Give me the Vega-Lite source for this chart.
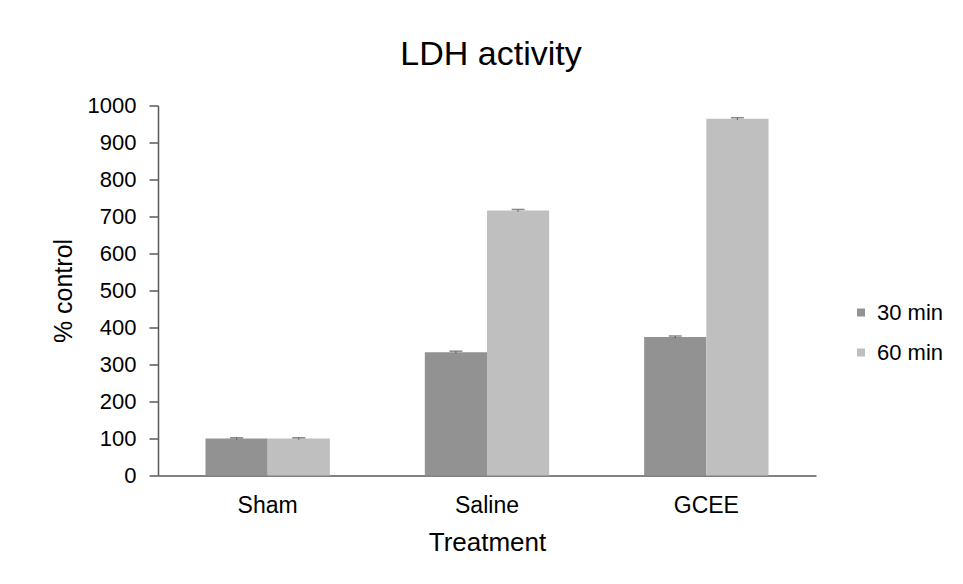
{
  "$schema": "https://vega.github.io/schema/vega-lite/v6.json",
  "width": 658,
  "height": 370,
  "autosize": {"type": "none"},
  "padding": {"left": 158, "top": 105.5, "right": 147, "bottom": 108.5},
  "background": "white",
  "config": {
    "font": "Liberation Sans",
    "view": {"stroke": null},
    "axisY": {
      "grid": false,
      "tickSize": 9,
      "tickColor": "#595959",
      "tickWidth": 1.5,
      "domainColor": "#595959",
      "domainWidth": 1.5,
      "labelFontSize": 22,
      "labelColor": "#000000",
      "labelPadding": 13,
      "titleFontSize": 25,
      "titleFontWeight": "normal",
      "titleColor": "#000000",
      "titleX": -95,
      "titleY": 185,
      "titleAngle": -90,
      "titleBaseline": "middle",
      "titleAlign": "center"
    }
  },
  "title": {
    "text": "LDH activity",
    "fontSize": 34,
    "fontWeight": "normal",
    "color": "#000000",
    "anchor": "middle",
    "baseline": "alphabetic",
    "offset": -4,
    "dx": 4
  },
  "data": {
    "values": [
      {"Treatment": "Sham", "Time": "30 min", "value": 100, "lo": 97, "hi": 102},
      {"Treatment": "Sham", "Time": "60 min", "value": 100, "lo": 97, "hi": 102},
      {"Treatment": "Saline", "Time": "30 min", "value": 333, "lo": 330, "hi": 336},
      {"Treatment": "Saline", "Time": "60 min", "value": 716, "lo": 713, "hi": 719},
      {"Treatment": "GCEE", "Time": "30 min", "value": 374, "lo": 371, "hi": 377},
      {"Treatment": "GCEE", "Time": "60 min", "value": 964, "lo": 961, "hi": 967}
    ]
  },
  "encoding": {
    "x": {
      "field": "Treatment",
      "type": "nominal",
      "sort": ["Sham", "Saline", "GCEE"],
      "scale": {"paddingInner": 0.433, "paddingOuter": 0.2165},
      "axis": {
        "labelAngle": 0,
        "ticks": false,
        "labelPadding": 19,
        "labelFontSize": 23,
        "labelColor": "#000000",
        "domainColor": "#595959",
        "domainWidth": 1.5,
        "title": "Treatment",
        "titleFontSize": 26,
        "titleFontWeight": "normal",
        "titleColor": "#000000",
        "titleY": 54,
        "titleBaseline": "top"
      }
    },
    "xOffset": {"field": "Time", "type": "nominal", "sort": ["30 min", "60 min"]}
  },
  "layer": [
    {
      "mark": {"type": "bar"},
      "encoding": {
        "y": {
          "field": "value",
          "type": "quantitative",
          "scale": {"domain": [0, 1000]},
          "axis": {
            "values": [0, 100, 200, 300, 400, 500, 600, 700, 800, 900, 1000],
            "format": "d",
            "title": "% control"
          }
        },
        "color": {
          "field": "Time",
          "type": "nominal",
          "scale": {"domain": ["30 min", "60 min"], "range": ["#929292", "#bfbfbf"]},
          "legend": {
            "title": null,
            "orient": "none",
            "legendX": 692,
            "legendY": 196,
            "symbolType": "square",
            "symbolSize": 64,
            "symbolStrokeWidth": 0,
            "labelFontSize": 22,
            "labelColor": "#000000",
            "labelOffset": 5,
            "rowPadding": 18
          }
        }
      }
    },
    {
      "mark": {"type": "rule", "color": "#595959", "strokeWidth": 1},
      "encoding": {
        "y": {
          "field": "lo",
          "type": "quantitative",
          "axis": {
            "values": [0, 100, 200, 300, 400, 500, 600, 700, 800, 900, 1000],
            "format": "d",
            "title": "% control"
          }
        },
        "y2": {"field": "hi"}
      }
    },
    {
      "mark": {"type": "tick", "color": "#595959", "thickness": 1.5, "size": 13, "orient": "horizontal"},
      "encoding": {
        "y": {
          "field": "hi",
          "type": "quantitative",
          "axis": {
            "values": [0, 100, 200, 300, 400, 500, 600, 700, 800, 900, 1000],
            "format": "d",
            "title": "% control"
          }
        }
      }
    }
  ]
}
